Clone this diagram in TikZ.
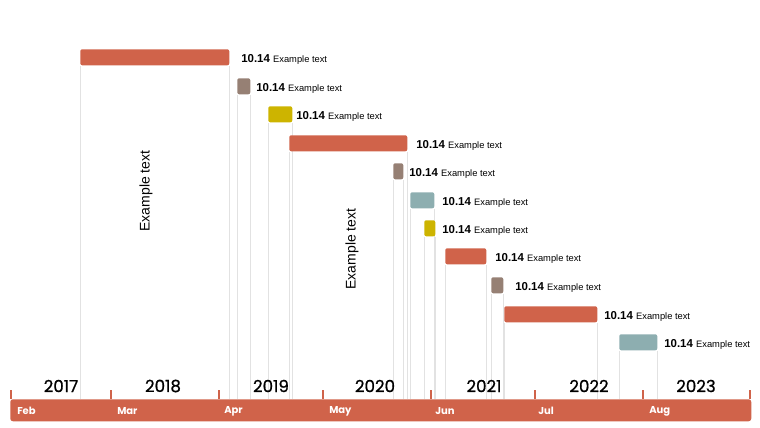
\documentclass[tikz,border=0pt]{standalone}
\usepackage{fontspec}
\setmainfont{Liberation Sans}
\newfontfamily\yearfont[FakeBold=0.8]{Poppins}
\newfontfamily\monthfont{Poppins}
\usetikzlibrary{positioning}
\pgfdeclarelayer{background}
\pgfsetlayers{background,main}

\definecolor{barorange}{RGB}{208,99,74}
\definecolor{bartaupe}{RGB}{150,128,116}
\definecolor{baryellow}{RGB}{205,180,0}
\definecolor{barteal}{RGB}{141,174,176}
\definecolor{guidegray}{RGB}{226,226,226}

\tikzset{
	ganttbar/.style={rounded corners=1.5pt, inner sep=0pt, minimum height=12pt, anchor=north west},
	guide/.style={draw=guidegray, line width=0.6pt},
	axistick/.style={draw=barorange, line width=0.9pt},
	tasklabel/.style={anchor=west, inner sep=0pt},
	notelabel/.style={rotate=90, font=\fontsize{10.5}{12}\selectfont},
	yearlabel/.style={font=\yearfont\fontsize{12.5}{12.5}\selectfont, text=black},
	monthlabel/.style={anchor=west, inner sep=0pt, font=\monthfont\bfseries\fontsize{7.5}{7.5}\selectfont, text=white}
}

\begin{document}
\begin{tikzpicture}[x=0.75pt,y=0.75pt,yscale=-1,xscale=1]
	\useasboundingbox (0,0) rectangle (760,428);
	
	%Timeline axis
	\node [fill=barorange, rounded corners=2pt, inner sep=0pt, anchor=north west,
		minimum width=741*0.75pt, minimum height=22*0.75pt] (axis) at (10,399) {};
	\foreach \t in {11,111,219,323,431,535,643,750}
		\draw [axistick] (\t,390) -- (\t,399);
	
	%Years
	\foreach \yr/\x in {2017/61,2018/163,2019/271,2020/375,2021/484,2022/589,2023/696}
		\node [yearlabel] (year\yr) at (\x,386) {\yr};
	
	%Months
	\foreach \mo/\x in {Feb/17,Mar/117,Apr/224,May/329,Jun/435,Jul/538,Aug/649}
		\node [monthlabel] (month\mo) at (\x,411) {\mo};
	
	%Task bars with guides and labels
	\foreach \n/\xa/\xb/\ya/\col/\lx in {
		1/80/229/49/barorange/241,
		2/237/250/78/bartaupe/256,
		3/268/292/106/baryellow/296,
		4/289/407/135/barorange/416,
		5/393/403/163/bartaupe/409,
		6/410/434/192/barteal/442,
		7/424/435/220/baryellow/442,
		8/445/486/248/barorange/495,
		9/491/503/277/bartaupe/515,
		10/504/597/306/barorange/604,
		11/619/657/334/barteal/664}
	{
		\node [ganttbar, fill=\col, minimum width={(\xb-\xa)*0.75pt}] (bar\n) at (\xa,\ya) {};
		\begin{pgfonlayer}{background}
			\draw [guide] (bar\n.south west) -- (bar\n.south west |- axis.north);
			\draw [guide] (bar\n.south east) -- (bar\n.south east |- axis.north);
		\end{pgfonlayer}
		\node [tasklabel] (task\n) at (\lx,\ya+10) {\fontsize{8.6}{9}\selectfont\bfseries 10.14 \fontsize{7}{8}\selectfont\mdseries Example text};
	}
	
	%Rotated notes
	\node [notelabel] (note1) at (146,191) {Example text};
	\node [notelabel] (note2) at (352,249) {Example text};
\end{tikzpicture}
\end{document}
